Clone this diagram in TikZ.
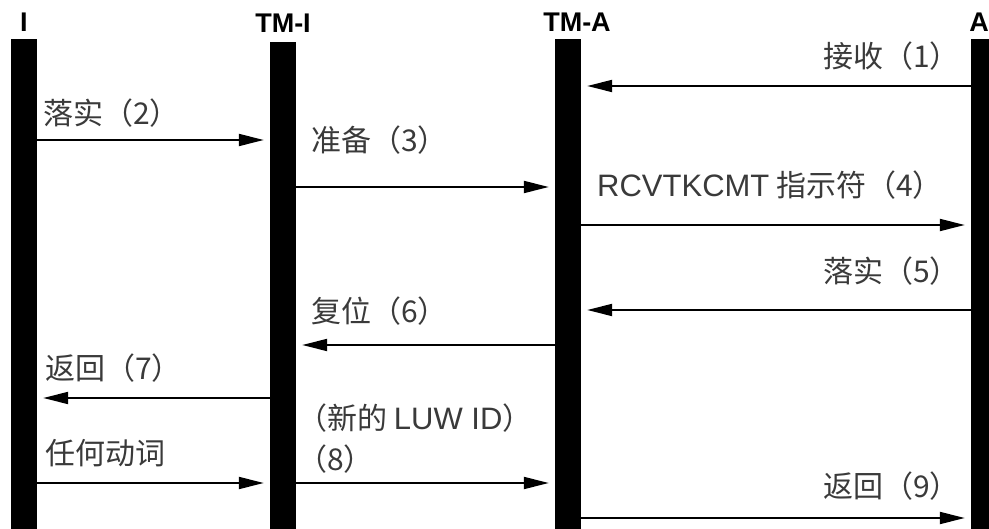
\documentclass[tikz,border=0pt]{standalone}
\usepackage{fontspec}
\setmainfont{Liberation Sans}
\newfontfamily\cjk{Noto Sans CJK SC}
\usetikzlibrary{arrows.meta,positioning}
\definecolor{ink}{HTML}{3A3A3A}
\newcommand{\latin}[1]{{\rmfamily\fontsize{31}{36}\selectfont #1}}
\tikzset{life/.style={fill=black,minimum width=26pt,minimum height=500pt,inner sep=0pt,anchor=north},head/.style={font=\bfseries\fontsize{27}{30}\selectfont,anchor=base,inner sep=0pt},msg/.style={-{Triangle[length=25pt,width=12pt]},line width=1.8pt,shorten >=6pt},lbl/.style={font=\cjk\fontsize{30}{36}\selectfont,text=ink,inner sep=0pt}}

\begin{document}
\begin{tikzpicture}[x=1pt,y=-1pt]
\useasboundingbox (0,0) rectangle (989,529);
% lifelines
\node[life] (barI) at (24,39) {};
\node[life] (barTMI) at (283,42) {};
\node[life] (barTMA) at (568,39) {};
\node[life] (barA) at (984,39) {};
\node[head] (hI) at (24,32) {I};
\node[head] (hTMI) at (283,33) {TM-I};
\node[head] (hTMA) at (577,32) {TM-A};
\node[head] (hA) at (979,32) {A};
% messages
\draw[msg] (barA.west |- 0,86) -- (barTMA.east |- 0,86);
\node[lbl,anchor=base east] (l1) at (960,68) {接收（1）};
\draw[msg] (barI.east |- 0,140) -- (barTMI.west |- 0,140);
\node[lbl,anchor=base west] (l2) at (43,125) {落实（2）};
\draw[msg] (barTMI.east |- 0,187) -- (barTMA.west |- 0,187);
\node[lbl,anchor=base west] (l3) at (311,152) {准备（3）};
\draw[msg] (barTMA.east |- 0,225) -- (barA.west |- 0,225);
\node[lbl,anchor=base west] (l4) at (597,197) {\latin{RCVTKCMT} 指示符（4）};
\draw[msg] (barA.west |- 0,310) -- (barTMA.east |- 0,310);
\node[lbl,anchor=base east] (l5) at (960,283) {落实（5）};
\draw[msg] (barTMA.west |- 0,345) -- (barTMI.east |- 0,345);
\node[lbl,anchor=base west] (l6) at (311,323) {复位（6）};
\draw[msg] (barTMI.west |- 0,398) -- (barI.east |- 0,398);
\node[lbl,anchor=base west] (l7) at (45,380) {返回（7）};
\draw[msg] (barI.east |- 0,483) -- (barTMI.west |- 0,483);
\node[lbl,anchor=base west] (l8) at (45,465) {任何动词};
\draw[msg] (barTMI.east |- 0,483) -- (barTMA.west |- 0,483);
\node[lbl,anchor=base west] (l8a) at (297,430) {（新的 \latin{LUW ID}）};
\node[lbl,anchor=base west] (l8b) at (297,471) {（8）};
\draw[msg] (barTMA.east |- 0,518) -- (barA.west |- 0,518);
\node[lbl,anchor=base east] (l9) at (960,497) {返回（9）};
\end{tikzpicture}
\end{document}
